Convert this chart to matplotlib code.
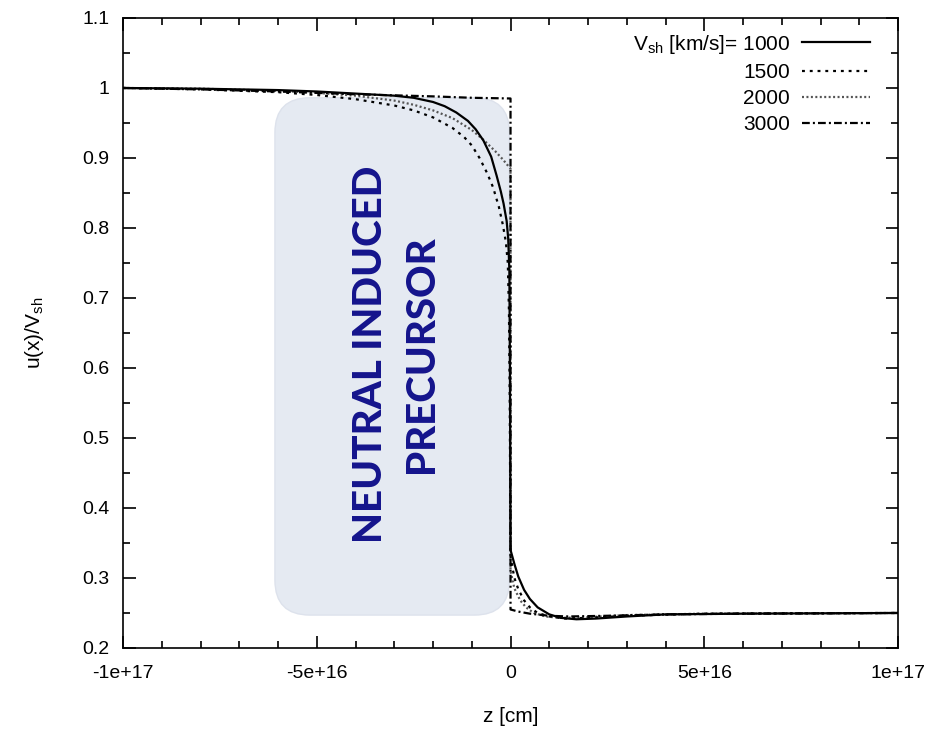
import matplotlib
matplotlib.use('Agg')
import matplotlib.pyplot as plt
from matplotlib.patches import FancyBboxPatch
from matplotlib.ticker import MultipleLocator

# velocity profiles u(z)/V_sh, z in units of 1e16 cm
z_1000 = [-10, -8, -6, -5, -4, -3, -2.5, -2, -1.7, -1.4, -1.1, -0.9, -0.7, -0.5, -0.36,
          -0.25, -0.18, -0.1, -0.06, -0.03, -0.015, 0.0, 0.1, 0.2, 0.35, 0.5, 0.7, 1.0,
          1.3, 1.7, 2.2, 3.0, 4.0, 6.0, 10]
u_1000 = [1.000, 0.999, 0.997, 0.995, 0.992, 0.989, 0.986, 0.980, 0.974, 0.965, 0.953,
          0.941, 0.925, 0.902, 0.875, 0.852, 0.835, 0.810, 0.785, 0.740, 0.600, 0.340,
          0.320, 0.302, 0.283, 0.270, 0.258, 0.248, 0.243, 0.241, 0.242, 0.245, 0.248,
          0.249, 0.250]

z_1500 = [-10, -8, -6, -5, -4, -3, -2.5, -2, -1.5, -1.2, -1.0, -0.8, -0.6, -0.45, -0.3,
          -0.2, -0.12, -0.07, -0.04, -0.02, 0.0, 0.1, 0.2, 0.35, 0.5, 0.7, 1.0, 1.4,
          2.0, 3.0, 5.0, 10]
u_1500 = [1.000, 0.998, 0.994, 0.990, 0.984, 0.975, 0.968, 0.958, 0.943, 0.930, 0.918,
          0.900, 0.878, 0.858, 0.830, 0.805, 0.780, 0.750, 0.680, 0.550, 0.330, 0.300,
          0.284, 0.268, 0.258, 0.250, 0.245, 0.242, 0.243, 0.246, 0.249, 0.250]

z_2000 = [-10, -8, -6, -5, -4, -3, -2.5, -2, -1.5, -1.0, -0.7, -0.4, -0.2, -0.05, 0.0,
          0.0, 0.1, 0.25, 0.4, 0.6, 0.9, 1.3, 2.0, 3.0, 5.0, 10]
u_2000 = [1.000, 0.999, 0.996, 0.993, 0.989, 0.982, 0.976, 0.968, 0.957, 0.940, 0.926,
          0.910, 0.898, 0.888, 0.885, 0.310, 0.285, 0.268, 0.258, 0.250, 0.245, 0.243,
          0.244, 0.247, 0.249, 0.250]

z_3000 = [-10, -8, -6, -4, -2, -1, 0.0, 0.0, 0.2, 0.5, 1.0, 1.5, 2.5, 4.0, 6.0, 10]
u_3000 = [1.000, 0.998, 0.995, 0.991, 0.988, 0.986, 0.985, 0.255, 0.252, 0.249, 0.246,
          0.245, 0.246, 0.248, 0.249, 0.250]

x_ticks = [-1e17, -5e16, 0, 5e16, 1e17]
x_ticklabels = ['-1e+17', '-5e+16', '0', '5e+16', '1e+17']
y_ticks = [0.2, 0.3, 0.4, 0.5, 0.6, 0.7, 0.8, 0.9, 1.0, 1.1]
y_ticklabels = ['0.2', '0.3', '0.4', '0.5', '0.6', '0.7', '0.8', '0.9', '1', '1.1']

# precursor region highlighted on the plot
region_z = (-6.08e16, -0.03e16)
region_u = (0.247, 0.986)

plt.rcParams['font.family'] = ['Liberation Sans', 'DejaVu Sans']
plt.rcParams['mathtext.fontset'] = 'custom'
plt.rcParams['mathtext.rm'] = 'Liberation Sans'

fig = plt.figure(figsize=(9.37, 7.34), dpi=100)
ax = fig.add_axes([0.1313, 0.1172, 0.8271, 0.8583])

sc = 1e16
lw = 1.6
ax.plot([z * sc for z in z_1000], u_1000, color='black', lw=lw,
        label=r'V$_{\rm sh}$ [km/s]= 1000', zorder=5)
ax.plot([z * sc for z in z_1500], u_1500, color='black', lw=lw,
        linestyle=(0, (1.3, 2.2)), label='1500', zorder=4)
ax.plot([z * sc for z in z_2000], u_2000, color='#555555', lw=lw,
        linestyle=(0, (0.9, 1.1)), label='2000', zorder=3)
ax.plot([z * sc for z in z_3000], u_3000, color='black', lw=lw,
        linestyle=(0, (3.5, 1.4, 0.9, 1.4)), label='3000', zorder=6)

ax.set_xlim(-1e17, 1e17)
ax.set_ylim(0.2, 1.1)

ax.set_xticks(x_ticks)
ax.set_xticklabels(x_ticklabels)
ax.set_yticks(y_ticks)
ax.set_yticklabels(y_ticklabels)
ax.xaxis.set_minor_locator(MultipleLocator(1e16))
ax.yaxis.set_minor_locator(MultipleLocator(0.05))
ax.tick_params(which='both', direction='in', top=True, right=True, width=1.2)
ax.tick_params(which='major', length=9, labelsize=14)
ax.tick_params(axis='x', which='major', pad=12)
ax.tick_params(axis='y', which='major', pad=10)
ax.tick_params(which='minor', length=5)
for s in ax.spines.values():
    s.set_linewidth(1.2)

ax.set_xlabel('z [cm]', fontsize=15, labelpad=18)
ax.set_ylabel(r'u(x)/V$_{\rm sh}$', fontsize=15, labelpad=26)

# rounded box drawn in axes fraction so the corners stay circular
fig.canvas.draw()
to_ax = ax.transAxes.inverted()
x0, y0 = to_ax.transform(ax.transData.transform((region_z[0], region_u[0])))
x1, y1 = to_ax.transform(ax.transData.transform((region_z[1], region_u[1])))
bbox = ax.get_window_extent()
box = FancyBboxPatch((x0, y0), x1 - x0, y1 - y0,
                     boxstyle='round,pad=0,rounding_size=0.045',
                     mutation_aspect=bbox.width / bbox.height,
                     transform=ax.transAxes, facecolor='#e5eaf2',
                     edgecolor='#dde2ec', lw=1.0, zorder=1)
ax.add_patch(box)
ax.text((x0 + x1) / 2 + 0.005, (y0 + y1) / 2 + 0.004, 'NEUTRAL INDUCED\nPRECURSOR',
        transform=ax.transAxes, rotation=90, ha='center', va='center',
        multialignment='center', fontsize=29, fontweight='black',
        family=['Lato', 'DejaVu Sans'], color='#14148c', linespacing=1.48, zorder=2)

leg = ax.legend(loc='upper right', frameon=False, markerfirst=False, fontsize=15,
                handlelength=3.3, handletextpad=0.55, labelspacing=0.35,
                borderaxespad=0.0, bbox_to_anchor=(0.975, 0.99))

fig.savefig('out.png', dpi=100)
